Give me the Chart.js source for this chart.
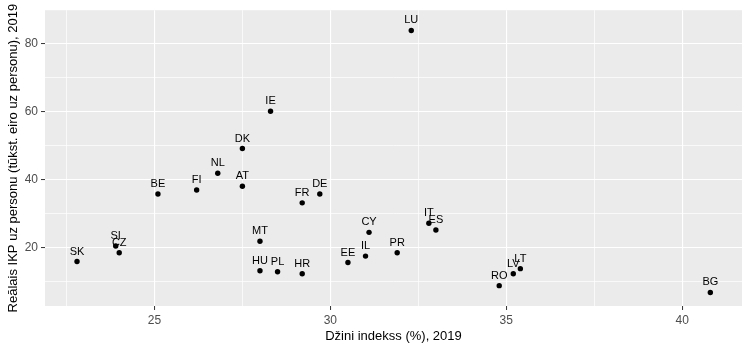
<!DOCTYPE html>
<html>
<head>
<meta charset="utf-8">
<script src="https://cdn.jsdelivr.net/npm/chart.js@4"></script>
<style>
  html, body { margin: 0; padding: 0; background: #fff; }
  #wrap { width: 750px; height: 350px; }
</style>
</head>
<body>
<div id="wrap"><canvas id="chart" width="750" height="350"></canvas></div>
<script>
// country codes and values
const countries = ["SK", "SI", "CZ", "BE", "FI", "NL", "AT", "DK", "IE", "FR", "DE", "MT", "HU",
  "PL", "HR", "EE", "IL", "CY", "PR", "IT", "ES", "RO", "LV", "LT", "BG", "LU"];
const gini = [22.8, 23.9, 24.0, 25.1, 26.2, 26.8, 27.5, 27.5, 28.3, 29.2, 29.7, 28.0, 28.0,
  28.5, 29.2, 30.5, 31.0, 31.1, 31.9, 32.8, 33.0, 34.8, 35.2, 35.4, 40.8, 32.3];
const gdp = [15.9, 20.5, 18.5, 35.8, 37.0, 41.9, 38.1, 49.2, 60.2, 33.2, 35.8, 21.9, 13.2,
  12.9, 12.3, 15.6, 17.5, 24.5, 18.5, 27.2, 25.2, 8.8, 12.3, 13.8, 6.8, 84.0];

const xTitle = "Džini indekss (%), 2019";
const yTitle = "Reālais IKP uz personu (tūkst. eiro uz personu), 2019";

const fontFamily = "'Liberation Sans', Arial, sans-serif";

// grey panel behind the plot
const panelBg = {
  id: "panelBg",
  beforeDraw(chart) {
    const { ctx, chartArea } = chart;
    ctx.save();
    ctx.fillStyle = "#EBEBEB";
    ctx.fillRect(chartArea.left, chartArea.top, chartArea.right - chartArea.left, chartArea.bottom - chartArea.top);
    ctx.restore();
  }
};

// country code above each point
const pointLabels = {
  id: "pointLabels",
  afterDatasetsDraw(chart) {
    const { ctx } = chart;
    const meta = chart.getDatasetMeta(0);
    ctx.save();
    ctx.font = "11px " + fontFamily;
    ctx.fillStyle = "#000000";
    ctx.textAlign = "center";
    ctx.textBaseline = "middle";
    meta.data.forEach((el, i) => {
      ctx.fillText(countries[i], el.x, el.y - 10);
    });
    ctx.restore();
  }
};

const isMajor = (v, step) => Math.abs(v / step - Math.round(v / step)) < 1e-6;

new Chart(document.getElementById("chart"), {
  type: "scatter",
  data: {
    datasets: [{
      data: gini.map((g, i) => ({ x: g, y: gdp[i] })),
      backgroundColor: "#000000",
      borderWidth: 0,
      pointRadius: 2.7,
      pointHoverRadius: 2.7
    }]
  },
  options: {
    responsive: false,
    animation: false,
    events: [],
    layout: { padding: { top: 7, right: 8, left: 0, bottom: 0 } },
    plugins: {
      legend: { display: false },
      tooltip: { enabled: false }
    },
    scales: {
      x: {
        type: "linear",
        min: 21.89,
        max: 41.7,
        afterFit: (scale) => { scale.height = 44; },
        border: { display: false },
        grid: {
          color: "#FFFFFF",
          lineWidth: (ctx) => isMajor(ctx.tick.value, 5) ? 1.1 : 0.7,
          tickColor: (ctx) => isMajor(ctx.tick.value, 5) ? "#333333" : "rgba(0,0,0,0)",
          tickLength: 4,
          tickWidth: 1
        },
        ticks: {
          stepSize: 2.5,
          includeBounds: false,
          autoSkip: false,
          maxRotation: 0,
          padding: 3,
          color: "#4D4D4D",
          font: { family: fontFamily, size: 12 },
          callback: (v) => isMajor(v, 5) ? String(v) : ""
        },
        title: {
          display: true,
          text: xTitle,
          color: "#000000",
          font: { family: fontFamily, size: 13 },
          padding: { top: 0, bottom: 6 }
        }
      },
      y: {
        type: "linear",
        min: 2.8,
        max: 89.97,
        afterFit: (scale) => { scale.width = 45; },
        border: { display: false },
        grid: {
          color: "#FFFFFF",
          lineWidth: (ctx) => isMajor(ctx.tick.value, 20) ? 1.1 : 0.7,
          tickColor: (ctx) => isMajor(ctx.tick.value, 20) ? "#333333" : "rgba(0,0,0,0)",
          tickLength: 4,
          tickWidth: 1
        },
        ticks: {
          stepSize: 10,
          includeBounds: false,
          autoSkip: false,
          padding: 3,
          color: "#4D4D4D",
          font: { family: fontFamily, size: 12 },
          callback: (v) => isMajor(v, 20) ? String(v) : ""
        },
        title: {
          display: true,
          text: yTitle,
          color: "#000000",
          font: { family: fontFamily, size: 13 },
          padding: { top: 6, bottom: 0 }
        }
      }
    }
  },
  plugins: [panelBg, pointLabels]
});
</script>
</body>
</html>
